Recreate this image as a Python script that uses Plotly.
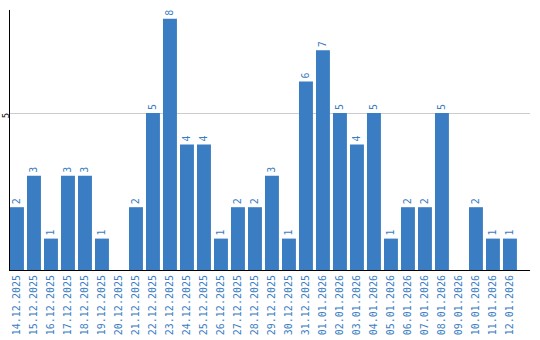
import plotly.graph_objects as go

dates = ["14.12.2025","15.12.2025","16.12.2025","17.12.2025","18.12.2025","19.12.2025",
         "20.12.2025","21.12.2025","22.12.2025","23.12.2025","24.12.2025","25.12.2025",
         "26.12.2025","27.12.2025","28.12.2025","29.12.2025","30.12.2025","31.12.2025",
         "01.01.2026","02.01.2026","03.01.2026","04.01.2026","05.01.2026","06.01.2026",
         "07.01.2026","08.01.2026","09.01.2026","10.01.2026","11.01.2026","12.01.2026"]
values = [2,3,1,3,3,1,0,2,5,8,4,4,1,2,2,3,1,6,7,5,4,5,1,2,2,5,0,2,1,1]

blue = "#3a7dc2"
font_family = "DejaVu Sans Mono"

fig = go.Figure(go.Bar(
    x=list(range(len(dates))),
    y=values,
    marker=dict(color=blue, line=dict(width=0)),
    text=[str(v) if v else "" for v in values],
    textposition="outside",
    textangle=-90,
    textfont=dict(family=font_family, size=10, color=blue),
    cliponaxis=False,
))

fig.update_layout(
    width=540, height=340,
    margin=dict(l=10, r=10, t=10, b=70),
    paper_bgcolor="white", plot_bgcolor="white",
    bargap=0.18,
    showlegend=False,
    font=dict(family=font_family, size=10),
)
fig.update_xaxes(
    range=[-0.41, 30.18],
    tickmode="array", tickvals=list(range(len(dates))), ticktext=dates,
    tickangle=-90,
    tickfont=dict(family=font_family, size=10, color=blue),
    showline=True, linecolor="black", linewidth=1,
    showgrid=False, ticks="", zeroline=False,
    automargin=False,
)
fig.update_yaxes(
    range=[0, 8.28],
    tickmode="array", tickvals=[5], ticktext=["5"],
    tickangle=-90,
    ticklabelstandoff=-4,
    ticklabelshift=4,
    tickfont=dict(family=font_family, size=9, color="black"),
    showline=True, linecolor="black", linewidth=1,
    showgrid=True, gridcolor="#cccccc", gridwidth=1,
    ticks="", zeroline=False,
    automargin=False,
)

fig.write_html("out.html")
